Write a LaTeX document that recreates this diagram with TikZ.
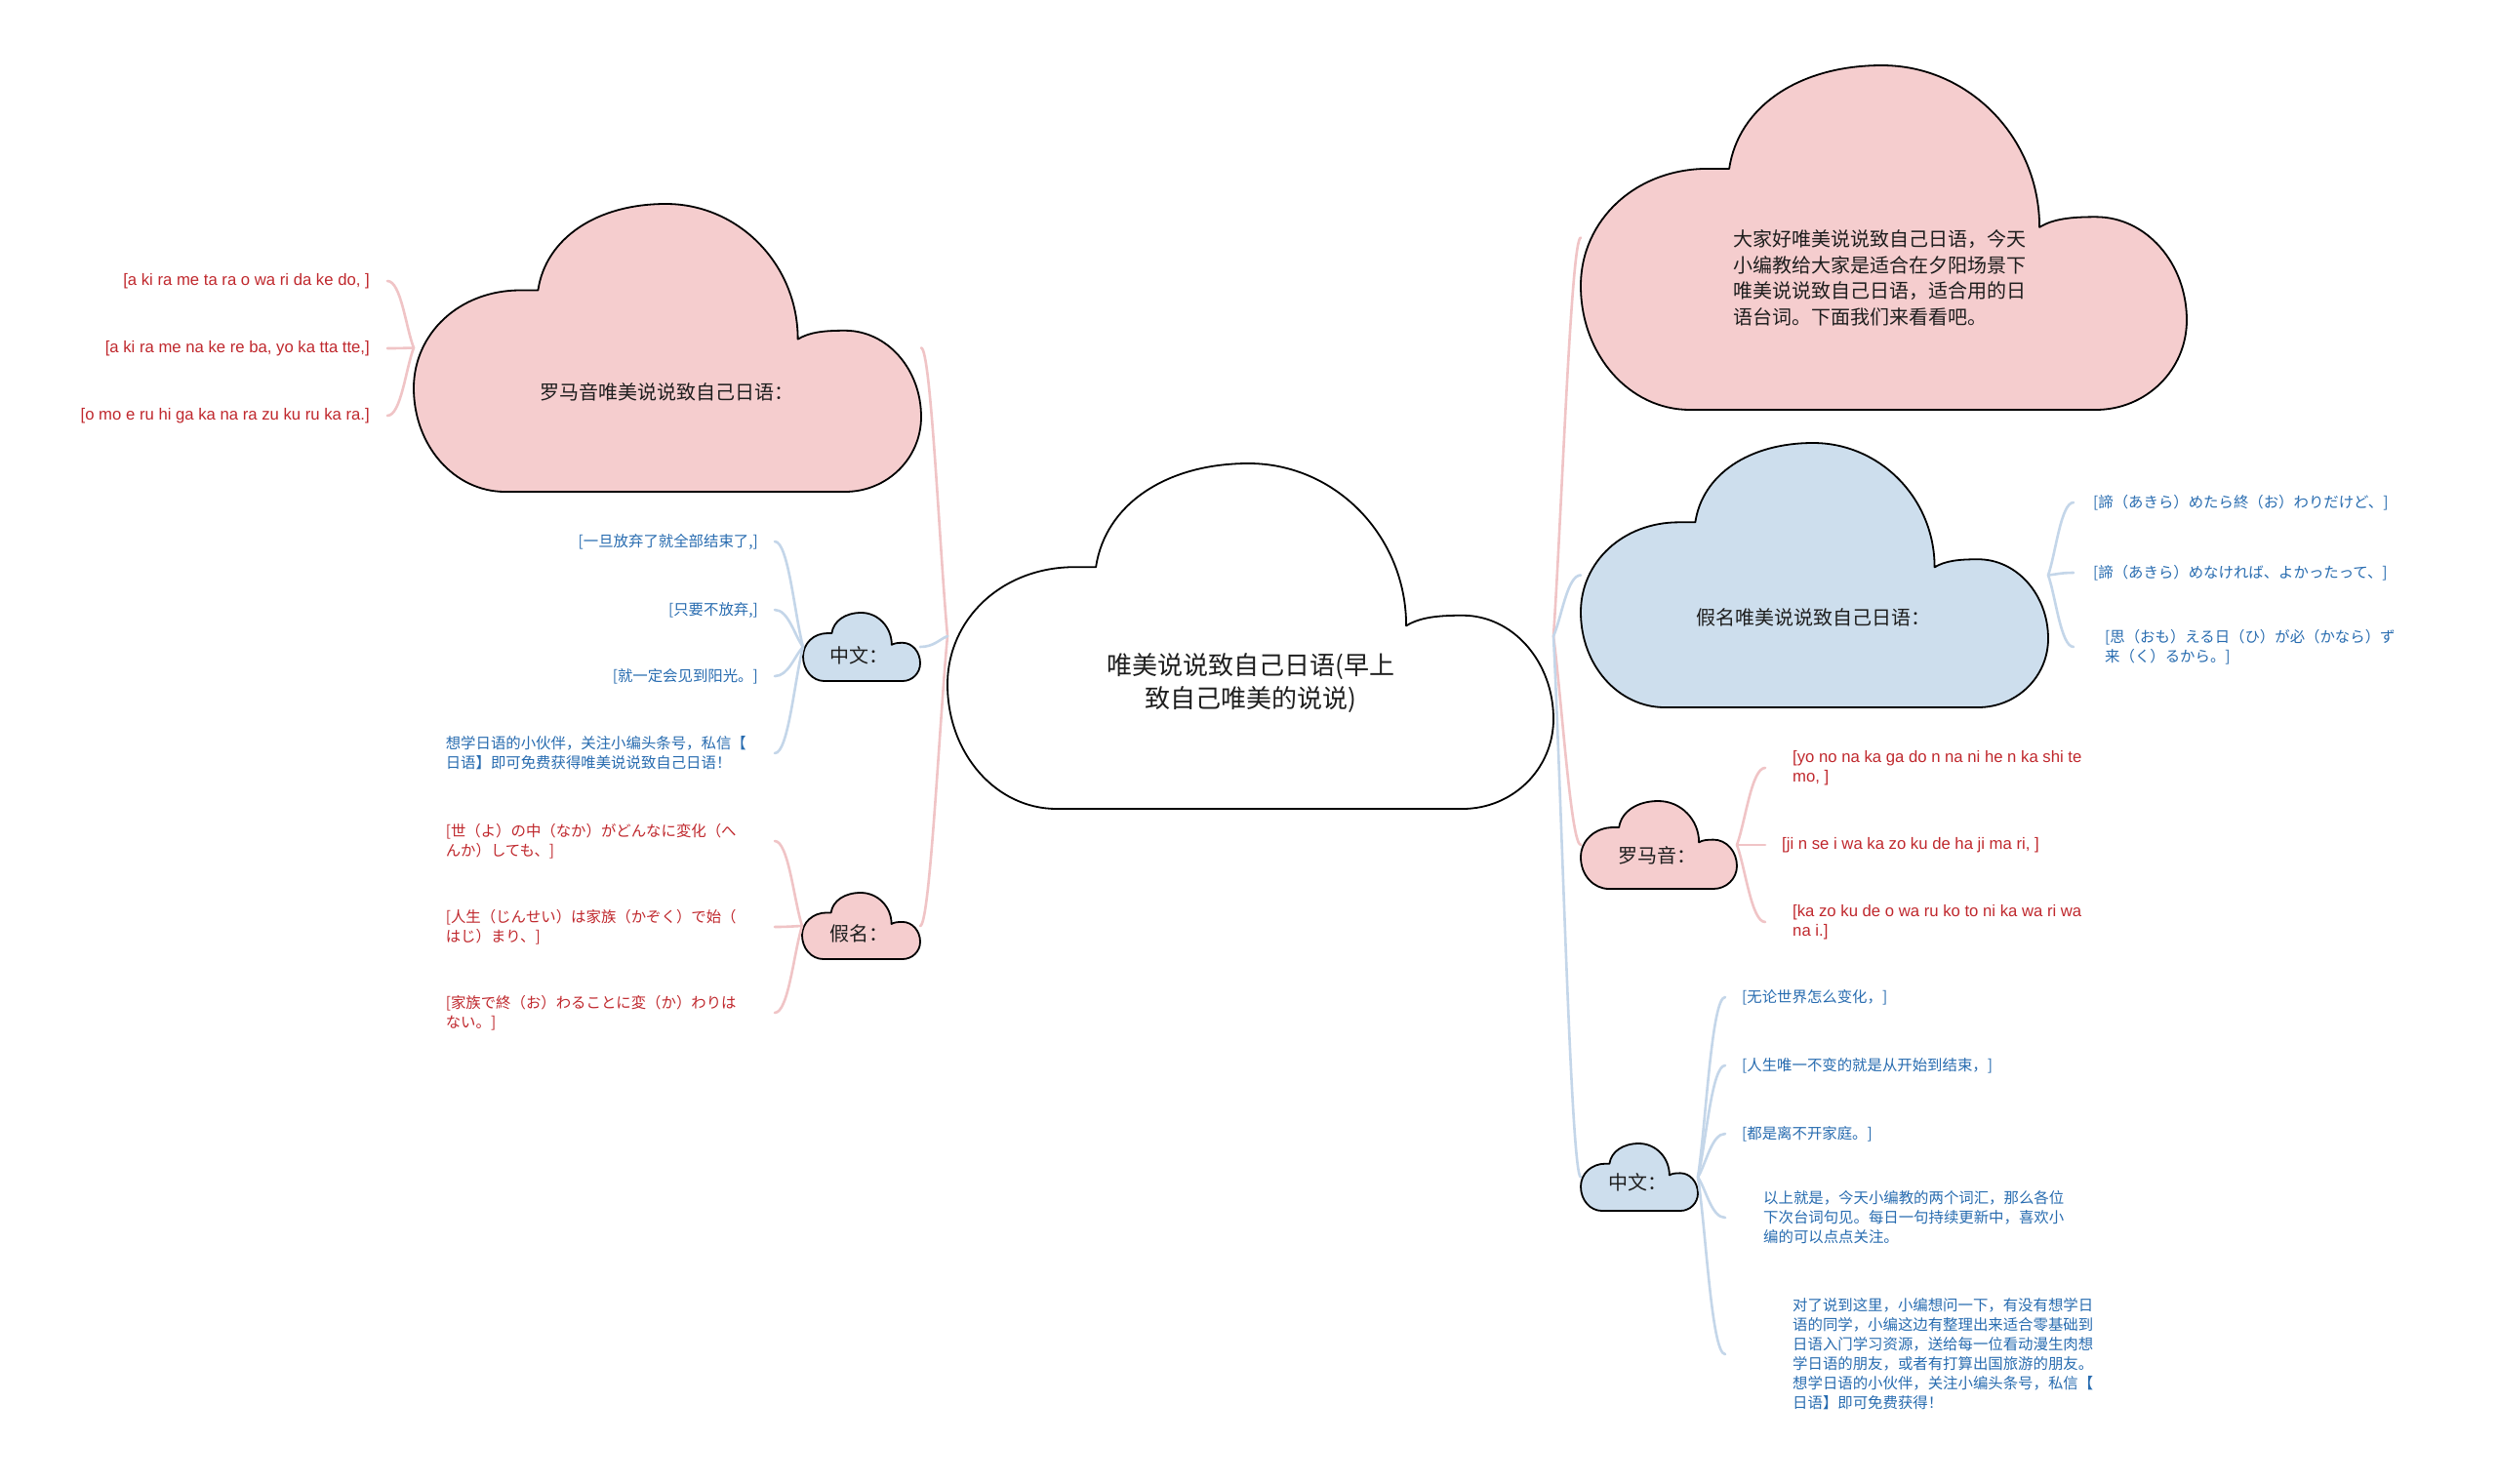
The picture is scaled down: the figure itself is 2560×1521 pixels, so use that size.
\documentclass[tikz,border=0pt]{standalone}
\usepackage{fontspec}
\setmainfont{Liberation Sans}
\newfontfamily\cjk{Noto Sans CJK SC}
\newfontfamily\lat{Liberation Sans}
\usetikzlibrary{calc}
\definecolor{pinkfill}{RGB}{245,205,206}
\definecolor{bluefill}{RGB}{205,222,237}
\definecolor{pinkln}{RGB}{240,196,198}
\definecolor{blueln}{RGB}{196,214,233}
\definecolor{redtxt}{RGB}{192,40,45}
\definecolor{bluetxt}{RGB}{40,108,176}
\definecolor{darktxt}{RGB}{30,30,30}
\tikzset{
  cloudbox/.style={rectangle, inner sep=0pt, outer sep=0pt},
  ctext/.style={inner sep=0pt, text=darktxt, font=\cjk\fontsize{20}{26.7}\selectfont},
  leafroman/.style={inner ysep=0pt, text=redtxt, font=\lat\fontsize{16.7}{20}\selectfont, align=left},
  leafred/.style={inner ysep=0pt, text=redtxt, font=\cjk\fontsize{15.4}{20}\selectfont, align=left},
  leafblue/.style={inner ysep=0pt, text=bluetxt, font=\cjk\fontsize{15.4}{20}\selectfont, align=left},
  pl/.style={draw=pinkln, line width=2.6pt, line cap=round},
  bl/.style={draw=blueln, line width=2.6pt, line cap=round},
}
\newcommand\mmcloud[6]{%
  \begin{scope}[shift={(#2,#3)}, xscale=#4, yscale=#5]
    \filldraw[fill=#6, draw=black, line width=1.8pt, line join=round]
      (0.18,1) .. controls (0.08,1) and (0,0.84) .. (0,0.64)
      .. controls (0,0.45) and (0.09,0.30) .. (0.21,0.30)
      -- (0.245,0.30)
      .. controls (0.26,0.12) and (0.36,0) .. (0.497,0)
      .. controls (0.64,0) and (0.757,0.21) .. (0.757,0.47)
      .. controls (0.78,0.445) and (0.81,0.44) .. (0.85,0.44)
      .. controls (0.933,0.44) and (1,0.574) .. (1,0.74)
      .. controls (1,0.884) and (0.933,1) .. (0.85,1) -- cycle;
  \end{scope}
  \node[cloudbox, minimum width=#4pt, minimum height=#5pt] (#1) at (#2+#4/2,#3+#5/2) {};
}
\newcommand\lnk[4]{\draw[#1] (#2) .. controls ($(#2)!0.3!(#3)$) and ($(#3)+(#4,0)$) .. (#3);}
\begin{document}
\begin{tikzpicture}[x=1pt, y=-1pt]
\fill[white] (0,0) rectangle (2560,1521);
\useasboundingbox (0,0) rectangle (2560,1521);

% clouds
\mmcloud{c0}{971}{475}{621}{354}{white}
\mmcloud{L1}{424}{209}{520}{295}{pinkfill}
\mmcloud{L2}{823}{628}{120}{70}{bluefill}
\mmcloud{L3}{822}{915}{121}{68}{pinkfill}
\mmcloud{R1}{1620}{67}{621}{353}{pinkfill}
\mmcloud{R2}{1620}{454}{479}{271}{bluefill}
\mmcloud{R3}{1620}{821}{160}{90}{pinkfill}
\mmcloud{R4}{1620}{1172}{120}{69}{bluefill}

% cloud texts
\node[ctext, font=\cjk\fontsize{26}{34}\selectfont, align=center] (c0t) at (1282,700) {唯美说说致自己日语(早上\\致自己唯美的说说)};
\node[ctext] (L1t) at (683,402) {罗马音唯美说说致自己日语：};
\node[ctext] (L2t) at (880,672) {中文：};
\node[ctext] (L3t) at (880,957) {假名：};
\node[ctext, align=left, anchor=west] (R1t) at (1776,285) {大家好唯美说说致自己日语，今天\\小编教给大家是适合在夕阳场景下\\唯美说说致自己日语，适合用的日\\语台词。下面我们来看看吧。};
\node[ctext] (R2t) at (1858,633) {假名唯美说说致自己日语：};
\node[ctext] (R3t) at (1698,877) {罗马音：};
\node[ctext] (R4t) at (1678,1212) {中文：};

% main links
\lnk{pl}{c0.west}{L1.east}{10}
\lnk{pl}{c0.west}{L3.east}{10}
\lnk{bl}{c0.west}{L2.east}{14}
\lnk{pl}{c0.east}{R1.west}{-10}
\lnk{pl}{c0.east}{R3.west}{-10}
\lnk{bl}{c0.east}{R4.west}{-10}
\lnk{bl}{c0.east}{R2.west}{-14}

% L1 leaves
\node[leafroman, anchor=east, inner xsep=18pt] (l11) at (397,288) {[a ki ra me ta ra o wa ri da ke do, ]};
\node[leafroman, anchor=east, inner xsep=18pt] (l12) at (397,357) {[a ki ra me na ke re ba, yo ka tta tte,]};
\node[leafroman, anchor=east, inner xsep=18pt] (l13) at (397,426) {[o mo e ru hi ga ka na ra zu ku ru ka ra.]};
\lnk{pl}{L1.west}{l11.east}{14}
\lnk{pl}{L1.west}{l12.east}{14}
\lnk{pl}{L1.west}{l13.east}{14}

% L2 leaves
\node[leafblue, anchor=east, inner xsep=17pt] (l21) at (794,555) {[一旦放弃了就全部结束了,]};
\node[leafblue, anchor=east, inner xsep=17pt] (l22) at (794,625) {[只要不放弃,]};
\node[leafblue, anchor=east, inner xsep=17pt] (l23) at (794,693) {[就一定会见到阳光。]};
\node[leafblue, anchor=east, inner xsep=17pt, text width=320pt] (l24) at (794,772) {想学日语的小伙伴，关注小编头条号，私信【\\日语】即可免费获得唯美说说致自己日语！};
\lnk{bl}{L2.west}{l21.east}{14}
\lnk{bl}{L2.west}{l22.east}{14}
\lnk{bl}{L2.west}{l23.east}{14}
\lnk{bl}{L2.west}{l24.east}{14}

% L3 leaves
\node[leafred, anchor=east, inner xsep=17pt, text width=320pt] (l31) at (794,862) {[世（よ）の中（なか）がどんなに変化（へ\\んか）しても、]};
\node[leafred, anchor=east, inner xsep=17pt, text width=320pt] (l32) at (794,950) {[人生（じんせい）は家族（かぞく）で始（\\はじ）まり、]};
\node[leafred, anchor=east, inner xsep=17pt, text width=320pt] (l33) at (794,1038) {[家族で終（お）わることに変（か）わりは\\ない。]};
\lnk{pl}{L3.west}{l31.east}{14}
\lnk{pl}{L3.west}{l32.east}{14}
\lnk{pl}{L3.west}{l33.east}{14}

% R2 leaves
\node[leafblue, anchor=west, inner xsep=20pt] (r21) at (2125,515) {[諦（あきら）めたら終（お）わりだけど、]};
\node[leafblue, anchor=west, inner xsep=20pt] (r22) at (2125,587) {[諦（あきら）めなければ、よかったって、]};
\node[leafblue, anchor=west, inner xsep=32pt] (r23) at (2125,663) {[思（おも）える日（ひ）が必（かなら）ず\\来（く）るから。]};
\lnk{bl}{R2.east}{r21.west}{-13}
\lnk{bl}{R2.east}{r22.west}{-13}
\lnk{bl}{R2.east}{r23.west}{-13}

% R3 leaves
\node[leafroman, anchor=west, inner xsep=28pt] (r31) at (1809,787) {[yo no na ka ga do n na ni he n ka shi te\\mo, ]};
\node[leafroman, anchor=west, inner xsep=17pt] (r32) at (1809,866) {[ji n se i wa ka zo ku de ha ji ma ri, ]};
\node[leafroman, anchor=west, inner xsep=28pt] (r33) at (1809,945) {[ka zo ku de o wa ru ko to ni ka wa ri wa\\na i.]};
\lnk{pl}{R3.east}{r31.west}{-14}
\lnk{pl}{R3.east}{r32.west}{-14}
\lnk{pl}{R3.east}{r33.west}{-14}

% R4 leaves
\node[leafblue, anchor=west, inner xsep=17pt] (r41) at (1768,1022) {[无论世界怎么变化，]};
\node[leafblue, anchor=west, inner xsep=17pt] (r42) at (1768,1092) {[人生唯一不变的就是从开始到结束，]};
\node[leafblue, anchor=west, inner xsep=17pt] (r43) at (1768,1162) {[都是离不开家庭。]};
\node[leafblue, anchor=west, inner xsep=39pt] (r44) at (1768,1248) {以上就是，今天小编教的两个词汇，那么各位\\下次台词句见。每日一句持续更新中，喜欢小\\编的可以点点关注。};
\node[leafblue, anchor=west, inner xsep=69pt] (r45) at (1768,1388) {对了说到这里，小编想问一下，有没有想学日\\语的同学，小编这边有整理出来适合零基础到\\日语入门学习资源，送给每一位看动漫生肉想\\学日语的朋友，或者有打算出国旅游的朋友。\\想学日语的小伙伴，关注小编头条号，私信【\\日语】即可免费获得！};
\lnk{bl}{R4.east}{r41.west}{-14}
\lnk{bl}{R4.east}{r42.west}{-14}
\lnk{bl}{R4.east}{r43.west}{-14}
\lnk{bl}{R4.east}{r44.west}{-14}
\lnk{bl}{R4.east}{r45.west}{-14}
\end{tikzpicture}
\end{document}
